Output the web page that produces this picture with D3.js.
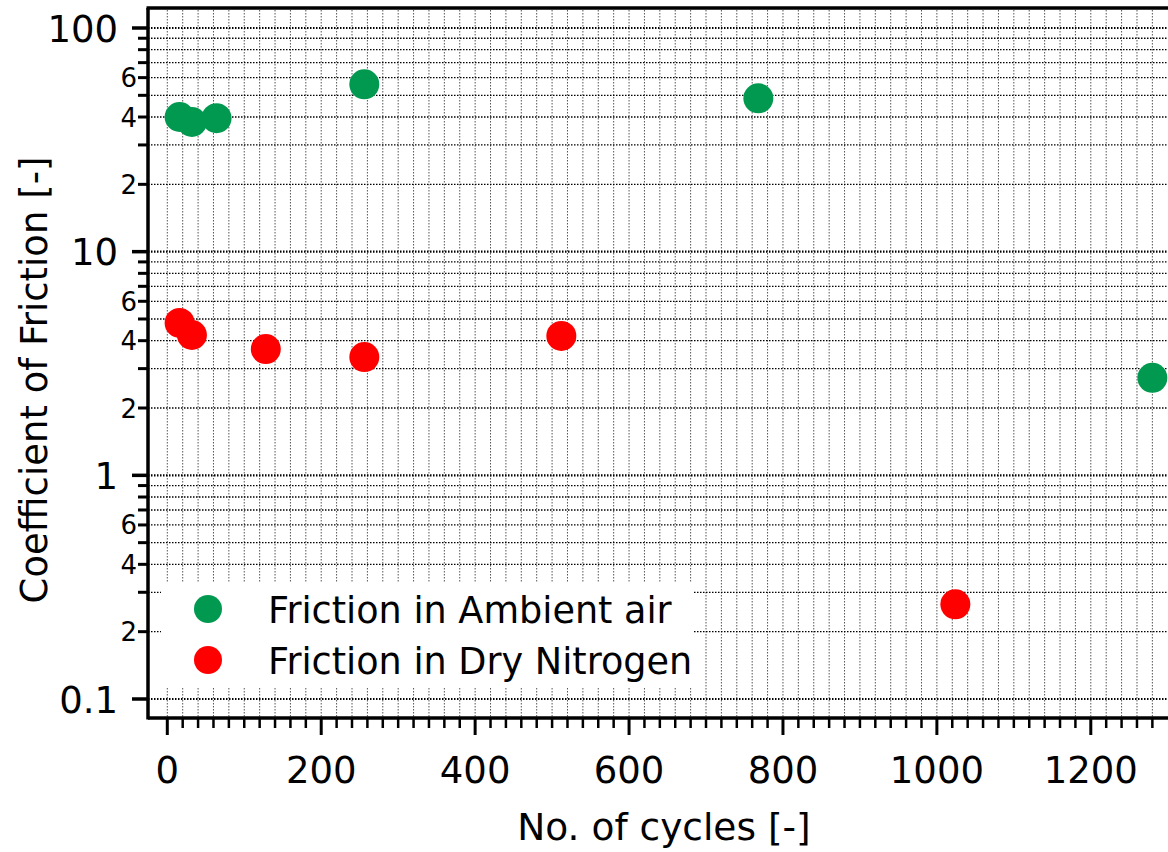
<!DOCTYPE html>
<html>
<head>
<meta charset="utf-8">
<script src="https://cdn.jsdelivr.net/npm/d3@7"></script>
<style>
  html, body { margin: 0; padding: 0; background: #fff; }
  svg { display: block; }
  text { font-family: "DejaVu Sans", "Noto Sans", sans-serif; fill: #000; }
</style>
</head>
<body>
<svg id="chart" width="1168" height="852"></svg>
<script>
// ---- data ----
const airCycles = [16, 32, 64, 256, 768, 1280];
const airCoF    = [40, 38, 39.5, 56, 48.5, 2.73];
const n2Cycles  = [16, 32, 128, 256, 512, 1024];
const n2CoF     = [4.8, 4.24, 3.67, 3.38, 4.2, 0.265];
const seriesNames = ["Friction in Ambient air", "Friction in Dry Nitrogen"];
const seriesColors = ["#00994f", "#ff0000"];
const xMajorTicks = [0, 200, 400, 600, 800, 1000, 1200];
const yDecades = [0.1, 1, 10, 100];
const yDecadeLabels = ["0.1", "1", "10", "100"];
const yMinorMultipliers = [2, 3, 4, 5, 6, 7, 8, 9];
const yMinorLabels = {2: "2", 4: "4", 6: "6"};
const xTitle = "No. of cycles [-]";
const yTitle = "Coefficient of Friction [-]";

// ---- layout ----
const frame = {left: 148, right: 1168, top: 8, bottom: 718};
const svg = d3.select("#chart");

const x = d3.scaleLinear().domain([0, 1200]).range([167.3, 1090.8]);
const y = d3.scaleLog().domain([0.1, 100]).range([699, 28]);

const xMinor = d3.range(0, 1281, 20).filter(v => v % 200 !== 0);
const xGrid = d3.range(0, 1281, 20);
const yMinor = [];
yDecades.slice(0, 3).forEach(d => yMinorMultipliers.forEach(m => yMinor.push({v: d * m, m})));

// grid
const grid = svg.append("g");
grid.selectAll("line.vg").data(xGrid).join("line")
  .attr("x1", d => x(d)).attr("x2", d => x(d))
  .attr("y1", frame.top + 2).attr("y2", frame.bottom - 1)
  .attr("stroke", "#555").attr("stroke-width", 1).attr("stroke-dasharray", "1.5,1.5");
grid.selectAll("line.hg").data(yMinor).join("line")
  .attr("x1", frame.left).attr("x2", frame.right)
  .attr("y1", d => y(d.v)).attr("y2", d => y(d.v))
  .attr("stroke", "#000").attr("stroke-width", 1.3).attr("stroke-dasharray", "1.5,1.5");
grid.selectAll("line.hgM").data(yDecades).join("line")
  .attr("x1", frame.left).attr("x2", frame.right)
  .attr("y1", d => y(d)).attr("y2", d => y(d))
  .attr("stroke", "#000").attr("stroke-width", 2.2).attr("stroke-dasharray", "1.5,1.5");

// legend box (covers grid)
const lg = svg.append("g");
lg.append("rect").attr("x", 161).attr("y", 583).attr("width", 532).attr("height", 104).attr("fill", "#fff");
seriesNames.forEach((name, i) => {
  lg.append("circle").attr("cx", 208).attr("cy", 609 + i * 51).attr("r", 14).attr("fill", seriesColors[i]);
  lg.append("text").attr("x", 268).attr("y", 623 + i * 51).attr("font-size", 36.6).text(name);
});

// data points
const air = airCycles.map((c, i) => ({c, v: airCoF[i]}));
const n2 = n2Cycles.map((c, i) => ({c, v: n2CoF[i]}));
svg.append("g").selectAll("circle").data(air).join("circle")
  .attr("cx", d => x(d.c)).attr("cy", d => y(d.v)).attr("r", 15).attr("fill", seriesColors[0]);
svg.append("g").selectAll("circle").data(n2).join("circle")
  .attr("cx", d => x(d.c)).attr("cy", d => y(d.v)).attr("r", 15).attr("fill", seriesColors[1]);

// axes frame
const ax = svg.append("g");
ax.append("line").attr("x1", frame.left).attr("x2", frame.right).attr("y1", frame.bottom).attr("y2", frame.bottom)
  .attr("stroke", "#000").attr("stroke-width", 3.5);
ax.append("line").attr("x1", frame.left).attr("x2", frame.left).attr("y1", frame.top).attr("y2", frame.bottom + 1.5)
  .attr("stroke", "#000").attr("stroke-width", 3.5);
ax.append("line").attr("x1", frame.left - 1.5).attr("x2", frame.right).attr("y1", frame.top).attr("y2", frame.top)
  .attr("stroke", "#000").attr("stroke-width", 3.5);

// x ticks
ax.selectAll("line.xt").data(xMajorTicks).join("line")
  .attr("x1", d => x(d)).attr("x2", d => x(d)).attr("y1", frame.bottom).attr("y2", frame.bottom + 17)
  .attr("stroke", "#000").attr("stroke-width", 3);
ax.selectAll("line.xm").data(xMinor).join("line")
  .attr("x1", d => x(d)).attr("x2", d => x(d)).attr("y1", frame.bottom).attr("y2", frame.bottom + 10)
  .attr("stroke", "#000").attr("stroke-width", 2.5);
ax.selectAll("text.xl").data(xMajorTicks).join("text")
  .attr("x", d => x(d)).attr("y", 783).attr("text-anchor", "middle").attr("font-size", 37)
  .text(d => d);

// y ticks
ax.selectAll("line.yt").data(yDecades).join("line")
  .attr("x1", frame.left - 16).attr("x2", frame.left).attr("y1", d => y(d)).attr("y2", d => y(d))
  .attr("stroke", "#000").attr("stroke-width", 3.5);
ax.selectAll("line.ym").data(yMinor).join("line")
  .attr("x1", frame.left - 10).attr("x2", frame.left).attr("y1", d => y(d.v)).attr("y2", d => y(d.v))
  .attr("stroke", "#000").attr("stroke-width", 3);
ax.selectAll("text.yl").data(yDecades).join("text")
  .attr("x", 118).attr("y", d => y(d) + 13.5).attr("text-anchor", "end").attr("font-size", 37)
  .text((d, i) => yDecadeLabels[i]);
ax.selectAll("text.ym").data(yMinor.filter(d => yMinorLabels[d.m])).join("text")
  .attr("x", 137).attr("y", d => y(d.v) + 9.5).attr("text-anchor", "end").attr("font-size", 26)
  .text(d => yMinorLabels[d.m]);

// titles
svg.append("text").attr("x", 664).attr("y", 840).attr("text-anchor", "middle").attr("font-size", 37.5).text(xTitle);
svg.append("text").attr("transform", "translate(47,380) rotate(-90)").attr("text-anchor", "middle")
  .attr("font-size", 37).text(yTitle);
</script>
</body>
</html>
